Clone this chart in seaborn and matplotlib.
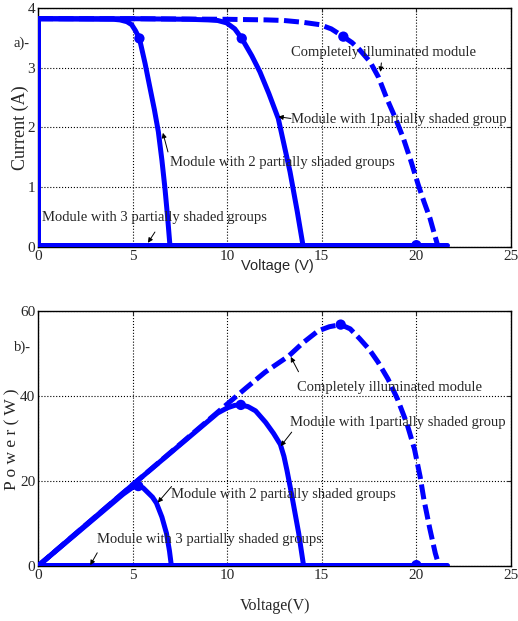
import matplotlib
matplotlib.use("Agg")
import matplotlib.pyplot as plt
import seaborn as sns

# ---- I-V curves (Voltage V, Current A) ----
v_full = [0, 5, 10, 12.1, 13.0, 14.0, 14.9, 15.5, 16.14, 16.6, 17.0, 17.55, 18.0, 18.43,
          18.9, 19.31, 19.7, 20.1, 20.4, 20.72, 20.95, 21.15]
i_full = [3.82, 3.82, 3.81, 3.80, 3.79, 3.76, 3.72, 3.65, 3.52, 3.42, 3.30, 3.10, 2.84, 2.49,
          2.15, 1.82, 1.45, 1.04, 0.76, 0.48, 0.22, 0.0]

v_1sh = [0, 5, 8, 9, 9.5, 9.97, 10.4, 10.77, 11.3, 11.73, 12.2, 12.7, 13.0, 13.32, 13.7, 14.02]
i_1sh = [3.82, 3.82, 3.81, 3.80, 3.79, 3.75, 3.65, 3.49, 3.20, 2.93, 2.57, 2.15, 1.72, 1.26,
         0.6, 0.0]

v_2sh = [0, 4.0, 4.33, 4.7, 4.95, 5.15, 5.36, 5.66, 5.92, 6.15, 6.36, 6.55, 6.71, 6.85, 6.98]
i_2sh = [3.82, 3.81, 3.80, 3.77, 3.72, 3.62, 3.49, 3.07, 2.66, 2.30, 1.93, 1.45, 0.98, 0.5, 0.0]

v_3sh = [0, 0, 21.6]
i_3sh = [3.82, 0.03, 0.03]

# maximum power points marked on the I-V plot
v_mpp_iv = [5.36, 10.77, 16.14, 20.0]
i_mpp_iv = [3.49, 3.49, 3.52, 0.03]

# ---- P-V curves (Voltage V, Power W) ----
vp_full = [0, 5, 10, 11, 12, 13.25, 14, 14.8, 15.4, 16.0, 16.5, 17.0, 17.5, 17.97, 18.5,
           19.0, 19.5, 19.9, 20.2, 20.4, 20.7, 21.0, 21.2]
p_full = [0, 19.1, 38.1, 41.9, 45.6, 49.4, 52.5, 55.3, 56.3, 56.8, 55.8, 53.5, 51.0, 48.0,
          44.0, 39.3, 33.5, 27.5, 21.0, 15.6, 9.0, 3.0, 0.0]

vp_1sh = [0, 5, 9.5, 10, 10.4, 10.72, 11.1, 11.5, 12.03, 12.45, 12.81, 13.0, 13.16, 13.42,
          13.78, 14.04]
p_1sh = [0, 19.1, 36.0, 37.2, 37.8, 37.9, 37.5, 36.5, 33.8, 31.2, 28.6, 25.8, 22.5, 16.5,
         7.7, 0.0]

vp_2sh = [0, 4.5, 5.0, 5.3, 5.55, 5.8, 6.05, 6.26, 6.55, 6.79, 6.95, 7.05]
p_2sh = [0, 16.9, 18.5, 18.8, 18.4, 17.3, 16.2, 14.8, 11.5, 7.7, 3.5, 0.0]

vp_3sh = [0, 21.6]
p_3sh = [0.2, 0.2]

v_mpp_pv = [5.3, 10.72, 16.0, 20.0]
p_mpp_pv = [18.8, 37.9, 56.8, 0.2]

labels = ["Completely illuminated module",
          "Module with 1partially shaded group",
          "Module with 2 partially shaded groups",
          "Module with 3 partially shaded groups"]

# label centre (x, y), arrow tail, arrow head  (data coords)
ann_iv = [((18.24, 3.25), (18.15, 3.08), (18.1, 2.93)),
          ((19.05, 2.13), (13.37, 2.15), (12.7, 2.18)),
          ((12.92, 1.41), (6.87, 1.59), (6.6, 1.91)),
          ((6.18, 0.49), (6.18, 0.25), (5.81, 0.07))]
ann_pv = [((18.58, 41.9), (13.77, 45.7), (13.36, 49.2)),
          ((19.04, 33.8), (13.41, 31.5), (12.83, 28.2)),
          ((12.98, 16.8), (7.06, 18.7), (6.33, 14.9)),
          ((9.05, 6.2), (3.13, 3.1), (2.76, 0.2))]

sns.set_style("white")
plt.rcParams["font.family"] = ["Liberation Serif", "DejaVu Serif"]

blue = "#0000ff"
lw = 3.6

fig = plt.figure(figsize=(5.18, 6.21), dpi=100)
ax1 = fig.add_axes([0.0734, 0.6023, 0.913, 0.3849])
ax2 = fig.add_axes([0.0734, 0.0886, 0.913, 0.4106])


def draw(ax, full, sh1, sh2, sh3, mpp, ann):
    sns.lineplot(x=full[0], y=full[1], ax=ax, sort=False, estimator=None, color=blue,
                 lw=lw, linestyle=(0, (3, 1.1)), dash_capstyle="butt",
                 dash_joinstyle="round", zorder=3)
    for v, y in (sh1, sh2, sh3):
        sns.lineplot(x=v, y=y, ax=ax, sort=False, estimator=None, color=blue,
                     lw=lw, solid_joinstyle="round", zorder=4)
    sns.scatterplot(x=mpp[0], y=mpp[1], ax=ax, color=blue, s=55, edgecolor="none",
                    zorder=5)
    for lab, (pos, tail, head) in zip(labels, ann):
        ax.text(pos[0], pos[1], lab, ha="center", va="center", fontsize=10.5, zorder=6)
        ax.annotate("", xy=head, xytext=tail,
                    arrowprops=dict(arrowstyle="-|>", color="k", lw=0.7,
                                    mutation_scale=7, shrinkA=0, shrinkB=0),
                    zorder=6)
    ax.set_xlim(0, 25)
    ax.set_xticks([0, 5, 10, 15, 20, 25])
    ax.grid(True, linestyle=":", color="k", lw=0.8)
    ax.set_axisbelow(True)
    ax.tick_params(direction="in", length=3, labelsize=11, pad=2, top=True, right=True)
    for s in ax.spines.values():
        s.set_color("k")
        s.set_linewidth(1.0)
    ax.set_xlabel("")
    ax.set_ylabel("")


draw(ax1, (v_full, i_full), (v_1sh, i_1sh), (v_2sh, i_2sh), (v_3sh, i_3sh),
     (v_mpp_iv, i_mpp_iv), ann_iv)
ax1.set_ylim(0, 4)
ax1.set_yticks([0, 1, 2, 3, 4])

draw(ax2, (vp_full, p_full), (vp_1sh, p_1sh), (vp_2sh, p_2sh), (vp_3sh, p_3sh),
     (v_mpp_pv, p_mpp_pv), ann_pv)
ax2.set_ylim(0, 60)
ax2.set_yticks([0, 20, 40, 60])

# axis titles, placed like the original figure
fig.text(20 / 518, 1 - 128 / 621, "Current (A)", rotation=90, ha="center", va="center",
         fontsize=13)
fig.text(12 / 518, 1 - 439 / 621, "P o w e r ( W )", rotation=90, ha="center",
         va="center", fontsize=12.5)
fig.text(277 / 518, 1 - 266 / 621, "Voltage (V)", ha="center", va="center",
         fontsize=10.5, family="Liberation Sans")
fig.text(275 / 518, 1 - 606 / 621, "Voltage(V)", ha="center", va="center", fontsize=11.5)
fig.text(21 / 518, 1 - 43 / 621, "a)-", ha="center", va="center", fontsize=10.5)
fig.text(22 / 518, 1 - 347 / 621, "b)-", ha="center", va="center", fontsize=10.5)

fig.savefig("out.png", dpi=100)
